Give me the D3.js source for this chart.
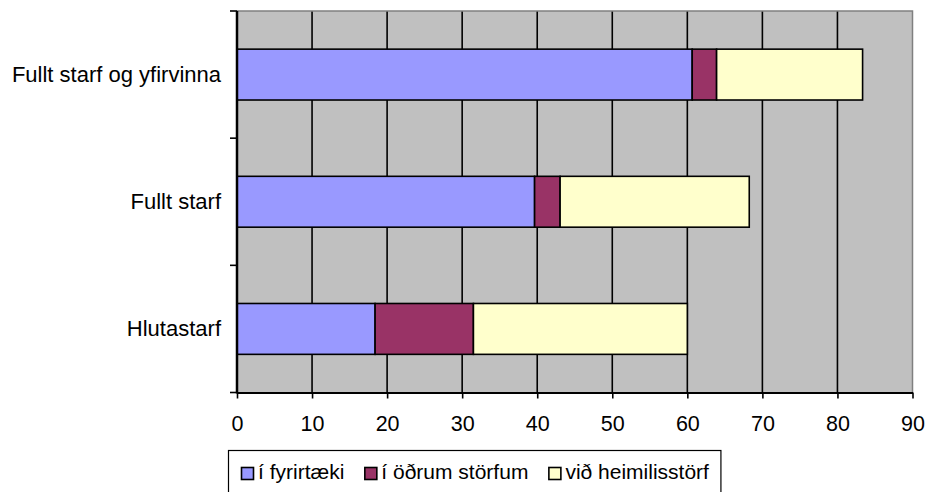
<!DOCTYPE html>
<html>
<head>
<meta charset="utf-8">
<script src="https://cdn.jsdelivr.net/npm/d3@7"></script>
<style>
  body { margin: 0; background: #fff; }
  text { font-family: "Liberation Sans", Arial, sans-serif; font-size: 21px; fill: #000; }
</style>
</head>
<body>
<div id="chart"></div>
<script>
const categories = ["Fullt starf og yfirvinna", "Fullt starf", "Hlutastarf"];
const seriesNames = ["í fyrirtæki", "í öðrum störfum", "við heimilisstörf"];
const fyrirtaeki = [60.65, 39.65, 18.4];
const odrumStorfum = [3.25, 3.4, 13.1];
const heimilisstorf = [19.45, 25.2, 28.5];
const xTicks = [0, 10, 20, 30, 40, 50, 60, 70, 80, 90];

(function () {
  const colors = ["#9999FF", "#993366", "#FFFFCC"];
  const W = 926, H = 492;
  const plot = { left: 237, right: 912.5, top: 11, bottom: 392.5 };

  const rows = categories.map((c, i) => ({
    cat: c,
    [seriesNames[0]]: fyrirtaeki[i],
    [seriesNames[1]]: odrumStorfum[i],
    [seriesNames[2]]: heimilisstorf[i]
  }));
  const stacked = d3.stack().keys(seriesNames)(rows);

  const svg = d3.select("#chart").append("svg")
    .attr("width", W)
    .attr("height", H);

  const x = d3.scaleLinear().domain([0, 90]).range([plot.left, plot.right]);
  const y = d3.scaleBand()
    .domain(categories)
    .range([plot.top, plot.bottom])
    .paddingInner(0.6)
    .paddingOuter(0.3);
  const step = y.step();

  // plot background
  svg.append("rect")
    .attr("x", plot.left).attr("y", plot.top)
    .attr("width", plot.right - plot.left)
    .attr("height", plot.bottom - plot.top)
    .attr("fill", "#C0C0C0");

  // gridlines
  svg.append("g").selectAll("line")
    .data(xTicks.filter(t => t > 0 && t < 90))
    .join("line")
    .attr("x1", d => x(d)).attr("x2", d => x(d))
    .attr("y1", plot.top).attr("y2", plot.bottom)
    .attr("stroke", "#000").attr("stroke-width", 1.6);

  // border top/right
  svg.append("path")
    .attr("d", `M${plot.left},${plot.top}H${plot.right}V${plot.bottom}`)
    .attr("fill", "none").attr("stroke", "#808080").attr("stroke-width", 1.5);

  // bars
  svg.append("g").selectAll("g")
    .data(stacked)
    .join("g")
    .attr("fill", (d, i) => colors[i])
    .selectAll("rect")
    .data(d => d)
    .join("rect")
    .attr("x", d => x(d[0]))
    .attr("y", d => y(d.data.cat))
    .attr("width", d => x(d[1]) - x(d[0]))
    .attr("height", y.bandwidth())
    .attr("stroke", "#000")
    .attr("stroke-width", 1.6);

  // x axis
  const xAxis = svg.append("g")
    .attr("transform", `translate(0,${plot.bottom})`)
    .call(d3.axisBottom(x).tickValues(xTicks).tickSize(6).tickSizeOuter(0).tickPadding(17));
  xAxis.select(".domain").attr("stroke", "#000").attr("stroke-width", 2);
  xAxis.selectAll(".tick line").attr("stroke", "#000").attr("stroke-width", 1.6);
  xAxis.selectAll(".tick text")
    .style("font-family", '"Liberation Sans", Arial, sans-serif')
    .style("font-size", "21.5px").attr("fill", "#000");

  // y axis line and ticks at band boundaries
  svg.append("line")
    .attr("x1", plot.left).attr("x2", plot.left)
    .attr("y1", plot.top).attr("y2", plot.bottom + 1)
    .attr("stroke", "#000").attr("stroke-width", 2.5);
  const bounds = d3.range(categories.length + 1).map(i => plot.top + i * step);
  svg.append("g").selectAll("line")
    .data(bounds)
    .join("line")
    .attr("x1", plot.left - 7).attr("x2", plot.left)
    .attr("y1", d => d).attr("y2", d => d)
    .attr("stroke", "#000").attr("stroke-width", 1.6);

  // category labels
  svg.append("g").selectAll("text")
    .data(categories)
    .join("text")
    .attr("x", 221)
    .attr("y", d => y(d) + y.bandwidth() / 2 + 7.5)
    .attr("text-anchor", "end")
    .style("font-size", "22px")
    .text(d => d);

  // legend
  const legend = svg.append("g");
  const box = legend.append("rect")
    .attr("x", 228.5).attr("y", 450.5)
    .attr("height", 60)
    .attr("fill", "#fff").attr("stroke", "#000").attr("stroke-width", 1.2);
  let lx = 241;
  seriesNames.forEach((name, i) => {
    legend.append("rect")
      .attr("x", lx + 0.5).attr("y", 467.5)
      .attr("width", 12).attr("height", 12)
      .attr("fill", colors[i]).attr("stroke", "#000").attr("stroke-width", 1.6);
    const t = legend.append("text")
      .attr("x", lx + 17).attr("y", 479)
      .text(name);
    lx += 17 + t.node().getComputedTextLength() + 20;
  });
  box.attr("width", lx - 20 + 12 - 228.5);
})();
</script>
</body>
</html>
